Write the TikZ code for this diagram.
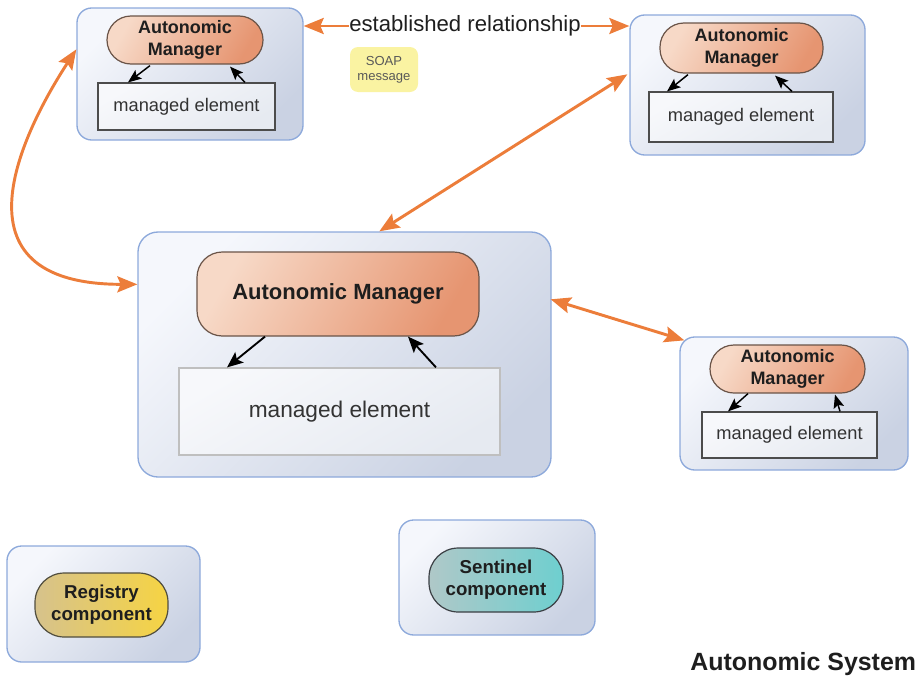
\documentclass[tikz,border=0pt]{standalone}
\usepackage{fontspec}
\setmainfont{Liberation Sans}
\usetikzlibrary{arrows.meta,calc}
\definecolor{obord}{HTML}{8DA9DB}
\definecolor{olight}{HTML}{F5F7FC}
\definecolor{odark}{HTML}{CAD2E3}
\definecolor{amlight}{HTML}{F7D9C7}
\definecolor{amdark}{HTML}{E69571}
\definecolor{ambord}{HTML}{6A5448}
\definecolor{orng}{HTML}{EC7D3A}
\definecolor{melight}{HTML}{F7F8FB}
\definecolor{medark}{HTML}{E6EAF1}
\definecolor{txt}{HTML}{1E1E1E}
\definecolor{regl}{HTML}{D6C28C}
\definecolor{regd}{HTML}{F6D443}
\definecolor{senl}{HTML}{AFC8C8}
\definecolor{send}{HTML}{6ECFCF}
\definecolor{soap}{HTML}{FAF3A2}
\begin{document}
\begin{tikzpicture}[x=0.75pt,y=-0.75pt,
  sz/.style 2 args={minimum width=#1*0.75pt, minimum height=#2*0.75pt},
  outerbox/.style={draw=obord, line width=1pt, rounded corners=11pt,
    top color=olight, bottom color=odark, shading angle=45, inner sep=0pt},
  ambox/.style={draw=ambord, line width=0.9pt, rounded corners=18pt,
    top color=amlight, bottom color=amdark, shading angle=60, align=center,
    inner sep=0pt, text=txt, font=\fontsize{13.5}{16}\selectfont\bfseries},
  mebox/.style={draw=black!70, line width=0.9pt, top color=melight,
    bottom color=medark, shading angle=30, inner sep=0pt, text=black!80,
    font=\fontsize{13.7}{16}\selectfont},
  compbox/.style={line width=0.9pt, rounded corners=22pt, align=center,
    inner sep=0pt, text=txt, font=\fontsize{14}{16.5}\selectfont\bfseries,
    shading angle=90},
  orarrow/.style={draw=orng, line width=2.2pt,
    arrows={-Stealth[length=15pt,width=12pt,inset=2.5pt]}},
  ordouble/.style={draw=orng, line width=2.2pt,
    arrows={Stealth[length=15pt,width=12pt,inset=2.5pt]-Stealth[length=15pt,width=12pt,inset=2.5pt]}},
  inarrow/.style={draw=black, line width=1.1pt,
    arrows={-Stealth[length=10pt,width=8pt,inset=2pt]}}
]
\useasboundingbox (0,0) rectangle (919,678);

% top-left system
\node[outerbox, sz={226}{132}] (tl) at (190,74) {};
\node[ambox, sz={156}{48}] (tlam) at (185,40) {Autonomic\\Manager};
\node[mebox, sz={177}{47}] (tlme) at (186.5,106.5) {managed element};

% top-right system
\node[outerbox, sz={235}{140}] (tr) at (747.5,85) {};
\node[ambox, sz={163}{50}] (tram) at (741.5,48) {Autonomic\\Manager};
\node[mebox, sz={184}{50}] (trme) at (741,117) {managed element};

% central system
\node[outerbox, sz={413}{245}, rounded corners=15pt] (cen) at (344.5,354.5) {};
\node[ambox, sz={282}{84}, rounded corners=19pt,
  font=\fontsize{16.5}{19}\selectfont\bfseries] (cenam) at (338,294) {Autonomic Manager};
\node[mebox, sz={321}{87}, draw=black!25,
  font=\fontsize{17}{20}\selectfont] (cenme) at (339.5,411.5) {managed element};

% bottom-right system
\node[outerbox, sz={228}{133}] (br) at (794,403.5) {};
\node[ambox, sz={155}{48}] (bram) at (787.5,369) {Autonomic\\Manager};
\node[mebox, sz={175}{46}] (brme) at (789.5,435) {managed element};

% registry and sentinel
\node[outerbox, sz={193}{116}] (reg) at (103.5,604) {};
\node[compbox, sz={133}{64}, draw=black!65!yellow!60!black,
  left color=regl, right color=regd] (regc) at (101.5,605) {Registry\\component};
\node[outerbox, sz={196}{115}] (sen) at (497,577.5) {};
\node[compbox, sz={134}{64}, draw=black!60!cyan!40!black,
  left color=senl, right color=send] (senc) at (496,580) {Sentinel\\component};

% labels
\node[fill=soap, rounded corners=6pt, sz={68}{45}, inner sep=0pt, align=center,
  text=black!65, font=\fontsize{9.8}{11.5}\selectfont] (soapm) at (384,69.5) {SOAP\\message};
\node[inner sep=0pt, text=txt, font=\fontsize{16.6}{19}\selectfont] (rel) at (465,26) {established relationship};
\node[inner sep=0pt, anchor=base west, text=txt,
  font=\fontsize{18.7}{21}\selectfont\bfseries] (sys) at (690,670) {Autonomic System};

% orange relationships
\draw[orarrow] (rel.west) -- (tl.east |- rel.west);
\draw[orarrow] (rel.east) -- (tr.west |- rel.east);
\draw[ordouble] ($(cen.north west)+(242,0)$) -- ($(tr.north west)+(-2,60)$);
\draw[ordouble] ($(cen.north east)+(-1,68)$) -- ($(br.north west)+(5,4)$);
\draw[ordouble] ($(tl.north west)+(0,42)$)
  .. controls +(-52,80) and +(-193,0) .. ($(cen.north west)+(0,53)$);

% internal control loops
\draw[inarrow] ($(tlam.south)+(-35,1)$) -- ($(tlme.north)+(-58.5,0)$);
\draw[inarrow] ($(tlme.north)+(58.5,0)$) -- ($(tlam.south)+(45,2)$);
\draw[inarrow] ($(tram.south)+(-53.5,1)$) -- ($(trme.north)+(-74,0)$);
\draw[inarrow] ($(trme.north)+(51,0)$) -- ($(tram.south)+(33.5,2)$);
\draw[inarrow] ($(bram.south)+(-39.5,0)$) -- ($(brme.north)+(-61.5,0)$);
\draw[inarrow] ($(brme.north)+(50.5,0)$) -- ($(bram.south)+(47.5,1)$);
\draw[inarrow, line width=1.4pt, arrows={-Stealth[length=12pt,width=10pt,inset=2.5pt]}]
  ($(cenam.south)+(-73,0)$) -- ($(cenme.north)+(-112.5,0)$);
\draw[inarrow, line width=1.4pt, arrows={-Stealth[length=12pt,width=10pt,inset=2.5pt]}]
  ($(cenme.north)+(96.5,0)$) -- ($(cenam.south)+(70,0)$);
\end{tikzpicture}
\end{document}
